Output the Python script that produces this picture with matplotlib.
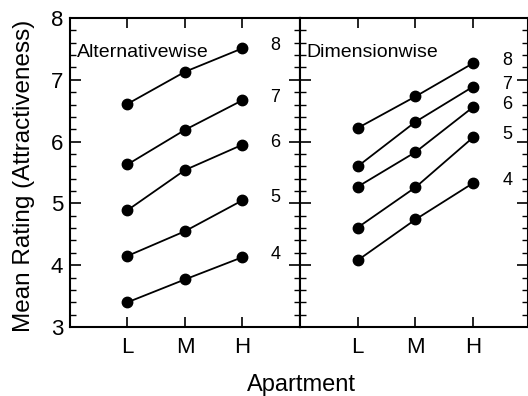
import matplotlib
matplotlib.use("Agg")
import matplotlib.pyplot as plt
from matplotlib.ticker import MultipleLocator

plt.rcParams['font.family'] = ['Liberation Sans', 'DejaVu Sans']

# apartment levels on the x axis
categories = ['L', 'M', 'H']
x_pos = [1, 2, 3]

# curve labels (number of attributes shown)
curve_labels = ['8', '7', '6', '5', '4']

# mean ratings, one row per curve label
alt_ratings = [
    [6.61, 7.13, 7.51],
    [5.63, 6.19, 6.67],
    [4.89, 5.54, 5.95],
    [4.15, 4.55, 5.05],
    [3.40, 3.77, 4.13],
]
dim_ratings = [
    [6.22, 6.73, 7.27],
    [5.60, 6.32, 6.89],
    [5.27, 5.83, 6.56],
    [4.61, 5.26, 6.07],
    [4.08, 4.74, 5.33],
]

W, H = 528, 396
fig = plt.figure(figsize=(W / 100, H / 100), dpi=100)

bottom = 1 - 327 / H
height = 309 / H
ax1 = fig.add_axes([70 / W, bottom, 230 / W, height])
ax2 = fig.add_axes([300 / W, bottom, 227.5 / W, height])


def draw_panel(ax, ratings, title, label_x, xmax):
    for lab, vals in zip(curve_labels, ratings):
        ax.plot(x_pos, vals, color='black', lw=1.3, marker='o',
                markersize=7.5, markerfacecolor='black', markeredgecolor='black')
        ax.text(label_x, vals[-1] + 0.04, lab, fontsize=13,
                ha='center', va='center')
    ax.set_xlim(0, xmax)
    ax.set_ylim(3, 8)
    ax.set_xticks(x_pos)
    ax.set_xticklabels(categories)
    ax.yaxis.set_major_locator(MultipleLocator(1))
    ax.yaxis.set_minor_locator(MultipleLocator(0.2))
    for sp in ax.spines.values():
        sp.set_linewidth(1.5)
    ax.tick_params(axis='x', which='both', direction='in', top=True,
                   length=7, width=1.2, labelsize=16, pad=7)
    ax.tick_params(axis='y', which='major', direction='in', length=8, width=1.2)
    ax.tick_params(axis='y', which='minor', direction='in', length=4, width=1.0)
    ax.text(0.03, 0.875, title, transform=ax.transAxes, fontsize=14,
            ha='left', va='baseline')


draw_panel(ax1, alt_ratings, 'Alternativewise', 3.57, 4.0)
draw_panel(ax2, dim_ratings, 'Dimensionwise', 3.59, 3.94)

ax1.tick_params(axis='y', which='both', left=True, right=True, labelsize=16, pad=5)
ax2.tick_params(axis='y', which='both', left=True, right=True, labelleft=False)

fig.text(24 / W, 1 - 176 / H, 'Mean Rating (Attractiveness)', rotation=90,
         fontsize=17.5, ha='center', va='center')
fig.text(301 / W, 1 - 391 / H, 'Apartment', fontsize=17,
         ha='center', va='baseline')

fig.savefig('out.png', dpi=100)
